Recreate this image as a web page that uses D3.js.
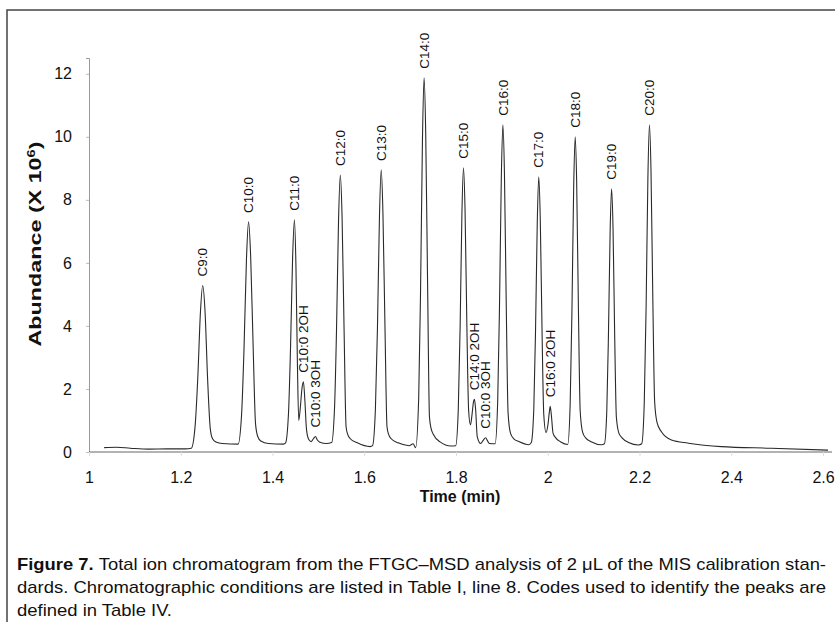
<!DOCTYPE html>
<html>
<head>
<meta charset="utf-8">
<script src="https://cdn.jsdelivr.net/npm/d3@7"></script>
<style>
  body { margin: 0; background: #fff; }
  svg { display: block; font-family: "Liberation Sans", Roboto, sans-serif; }
</style>
</head>
<body>
<div id="chart"></div>
<script>
// tick values
var xTicks = [1, 1.2, 1.4, 1.6, 1.8, 2, 2.2, 2.4, 2.6];
var yTicks = [0, 2, 4, 6, 8, 10, 12];

// peak names, retention time (min) and apex abundance (x 10^6)
var peakNames = ["C9:0", "C10:0", "C11:0", "C10:0 2OH", "C10:0 3OH", "C12:0", "C13:0", "C14:0", "C15:0",
    "C14:0 2OH", "C10:0 3OH", "C16:0", "C17:0", "C16:0 2OH", "C18:0", "C19:0", "C20:0"];
var peakTimes = [1.2478, 1.3478, 1.4478, 1.4674, 1.4935, 1.5478, 1.6370, 1.7304, 1.8163,
    1.8402, 1.8646, 1.9022, 1.9804, 2.0054, 2.0598, 2.1391, 2.2217];
var peakHeights = [5.28, 7.30, 7.37, 2.23, 0.49, 8.79, 8.95, 11.87, 9.02,
    1.67, 0.45, 10.38, 8.73, 1.45, 10.0, 8.35, 10.38];

// total ion trace, [time, abundance]
var trace = [
    [1.033, 0.14], [1.060, 0.15], [1.090, 0.12], [1.130, 0.09], [1.170, 0.10], [1.210, 0.10], [1.2230, 0.12],
    // C9:0
    [1.2313, 0.82], [1.2371, 2.34], [1.2429, 4.43], [1.2478, 5.28], [1.2528, 4.50], [1.2586, 2.30], [1.2643, 0.75],
    [1.2693, 0.42], [1.2767, 0.32], [1.2913, 0.27],
    // C10:0
    [1.3250, 0.25], [1.3326, 1.19], [1.3379, 3.28], [1.3433, 6.14], [1.3478, 7.30], [1.3524, 6.20], [1.3577, 3.40],
    [1.3630, 0.90], [1.3676, 0.50], [1.3745, 0.35], [1.3913, 0.27], [1.4239, 0.25],
    // C11:0, C10:0 2OH, C10:0 3OH
    [1.4283, 0.28], [1.4348, 1.21], [1.4393, 3.31], [1.4439, 6.20], [1.4478, 7.37], [1.4511, 5.90], [1.4543, 2.80],
    [1.4572, 1.00], [1.4609, 1.45], [1.4641, 2.00], [1.4674, 2.23], [1.4707, 1.60], [1.4739, 0.75], [1.4783, 0.42],
    [1.4841, 0.33], [1.4891, 0.42], [1.4935, 0.49], [1.4978, 0.38], [1.5033, 0.31], [1.5174, 0.27],
    // C12:0
    [1.5289, 0.30], [1.5352, 1.39], [1.5396, 3.92], [1.5440, 7.38], [1.5478, 8.79], [1.5516, 7.50], [1.5560, 3.90],
    [1.5604, 0.80], [1.5641, 0.55], [1.5696, 0.42], [1.5848, 0.29], [1.6130, 0.17],
    // C13:0
    [1.6180, 0.20], [1.6243, 1.35], [1.6288, 3.94], [1.6332, 7.50], [1.6370, 8.95], [1.6407, 7.60], [1.6452, 3.95],
    [1.6496, 0.80], [1.6533, 0.55], [1.6587, 0.42], [1.6739, 0.29], [1.6978, 0.20], [1.7065, 0.26], [1.7120, 0.14],
    // C14:0
    [1.7187, 1.72], [1.7228, 5.18], [1.7269, 9.93], [1.7304, 11.87], [1.7340, 10.10], [1.7381, 5.30], [1.7422, 1.10],
    [1.7457, 0.75], [1.7511, 0.55], [1.7652, 0.32], [1.7891, 0.19],
    // C15:0, C14:0 2OH, C10:0 3OH
    [1.7993, 0.20], [1.8050, 1.36], [1.8090, 3.97], [1.8129, 7.56], [1.8163, 9.02], [1.8197, 7.70], [1.8237, 4.00],
    [1.8276, 1.30], [1.8315, 0.86], [1.8354, 1.25], [1.8380, 1.58], [1.8402, 1.67], [1.8428, 1.35], [1.8463, 0.49],
    [1.8537, 0.27], [1.8598, 0.38], [1.8646, 0.45], [1.8685, 0.36], [1.8728, 0.27],
    // C16:0
    [1.8852, 0.26], [1.8909, 1.61], [1.8948, 4.60], [1.8988, 8.71], [1.9022, 10.38], [1.9056, 8.85], [1.9095, 4.70],
    [1.9135, 1.25], [1.9189, 0.59], [1.9261, 0.42], [1.9370, 0.33], [1.9587, 0.23],
    // C17:0, C16:0 2OH
    [1.9641, 0.30], [1.9696, 1.37], [1.9734, 3.88], [1.9772, 7.32], [1.9804, 8.73], [1.9837, 7.40], [1.9875, 3.90],
    [1.9913, 1.20], [1.9963, 0.62], [2.0007, 0.90], [2.0033, 1.25], [2.0054, 1.45], [2.0080, 1.15], [2.0115, 0.60],
    [2.0174, 0.45], [2.0283, 0.32], [2.0435, 0.24],
    // C18:0
    [2.0489, 1.54], [2.0527, 4.43], [2.0565, 8.39], [2.0598, 10.00], [2.0630, 8.60], [2.0668, 4.60], [2.0707, 1.30],
    [2.0761, 0.62], [2.0826, 0.45], [2.0957, 0.32], [2.1174, 0.23],
    // C19:0
    [2.1235, 0.26], [2.1287, 1.30], [2.1323, 3.70], [2.1360, 7.00], [2.1391, 8.35], [2.1423, 7.10], [2.1459, 3.70],
    [2.1496, 1.10], [2.1550, 0.60], [2.1620, 0.45], [2.1761, 0.30], [2.1978, 0.22],
    // C20:0
    [2.2048, 0.26], [2.2104, 1.57], [2.2144, 4.58], [2.2183, 8.70], [2.2217, 10.38], [2.2251, 8.90], [2.2291, 4.80],
    [2.2330, 1.60], [2.2380, 0.95], [2.2478, 0.64], [2.2696, 0.38], [2.3065, 0.28], [2.3783, 0.17], [2.4870, 0.12],
    [2.6109, 0.06]
];

var captionLines = [
    "Total ion chromatogram from the FTGC\u2013MSD analysis of 2 \u03bcL of the MIS calibration stan-",
    "dards. Chromatographic conditions are listed in Table I, line 8. Codes used to identify the peaks are",
    "defined in Table IV."
];

var width = 835, height = 622;

var svg = d3.select("#chart").append("svg")
    .attr("width", width)
    .attr("height", height);

svg.append("rect")
    .attr("width", width)
    .attr("height", height)
    .style("fill", "#fff");

// frame round the figure (cut off on right and bottom)
svg.append("rect")
    .attr("x", 7)
    .attr("y", 10)
    .attr("width", 900)
    .attr("height", 700)
    .style("fill", "none")
    .style("stroke", "#444")
    .style("stroke-width", "1.5px");

var x = d3.scaleLinear().domain([1, 2.6]).range([89, 823]);
var y = d3.scaleLinear().domain([0, 12.5]).range([452, 58]);

// y axis
var yAxis = svg.append("g")
    .attr("transform", "translate(89,0)")
    .call(d3.axisLeft(y).tickValues(yTicks).tickFormat(d3.format("d")).tickSize(3).tickPadding(14));
yAxis.select(".domain").style("stroke", "#999");
yAxis.selectAll(".tick line").style("stroke", "#bbb");
yAxis.selectAll(".tick text")
    .style("font-size", "16px")
    .style("fill", "#111");

// x axis, line runs on past the last tick
var xAxis = svg.append("g")
    .attr("transform", "translate(0,452)")
    .call(d3.axisBottom(x).tickValues(xTicks).tickFormat(d3.format("~g")).tickSizeInner(4).tickSizeOuter(0).tickPadding(16));
xAxis.select(".domain").attr("d", "M89,0H832").style("stroke", "#666");
xAxis.selectAll(".tick line").style("stroke", "#ddd");
xAxis.selectAll(".tick text")
    .style("font-size", "16px")
    .style("fill", "#111");
// axis groups set their own font-family, drop it so the svg one is used
yAxis.attr("font-family", null);
xAxis.attr("font-family", null);

// axis titles
svg.append("text")
    .attr("x", 460)
    .attr("y", 502)
    .attr("text-anchor", "middle")
    .text("Time (min)")
    .style("font-size", "16px")
    .style("font-weight", "bold")
    .style("fill", "#111");

var yTitle = svg.append("text")
    .attr("text-anchor", "middle")
    .attr("dy", "0.36em")
    .style("font-size", "16px")
    .style("font-weight", "bold")
    .style("fill", "#111");
yTitle.append("tspan").text("Abundance (X 10");
yTitle.append("tspan").text("6").attr("baseline-shift", "super").style("font-size", "10px");
yTitle.append("tspan").text(")");
// the title is drawn stretched along its length in the figure
var yTitleLen = yTitle.node().getComputedTextLength();
yTitle.attr("transform", "translate(35,244) rotate(-90) scale(" + (205 / yTitleLen) + ",1)");

// chromatogram trace
var line = d3.line()
    .x(function(d) { return x(d[0]); })
    .y(function(d) { return y(d[1]); })
    .curve(d3.curveMonotoneX);

svg.append("path")
    .datum(trace)
    .attr("d", line)
    .style("fill", "none")
    .style("stroke", "#2a2a2a")
    .style("stroke-width", "1.1px");

// peak labels, rotated
svg.selectAll(".peak-label")
    .data(peakNames)
    .enter().append("text")
    .attr("class", "peak-label")
    .attr("transform", function(d, i) {
        return "translate(" + x(peakTimes[i]) + "," + (y(peakHeights[i]) - 9) + ") rotate(-90)";
    })
    .attr("dy", "0.35em")
    .text(function(d) { return d; })
    .style("font-size", "13.5px")
    .style("fill", "#111");

// caption
var cap = svg.append("g")
    .style("font-size", "17px")
    .style("fill", "#111");

var line1 = cap.append("text")
    .attr("x", 17)
    .attr("y", 570);
line1.append("tspan").text("Figure 7. ").style("font-weight", "bold");
line1.append("tspan").text(captionLines[0]);

var line2 = cap.append("text")
    .attr("x", 17)
    .attr("y", 593)
    .text(captionLines[1]);

var line3 = cap.append("text")
    .attr("x", 17)
    .attr("y", 616)
    .text(captionLines[2]);

// justify the first two lines to the column width, squeeze the last the same way
var colWidth = 809;
var ratio = colWidth / line2.node().getComputedTextLength();
line1.attr("textLength", colWidth).attr("lengthAdjust", "spacingAndGlyphs");
line2.attr("textLength", colWidth).attr("lengthAdjust", "spacingAndGlyphs");
line3.attr("textLength", line3.node().getComputedTextLength() * ratio).attr("lengthAdjust", "spacingAndGlyphs");
</script>
</body>
</html>
